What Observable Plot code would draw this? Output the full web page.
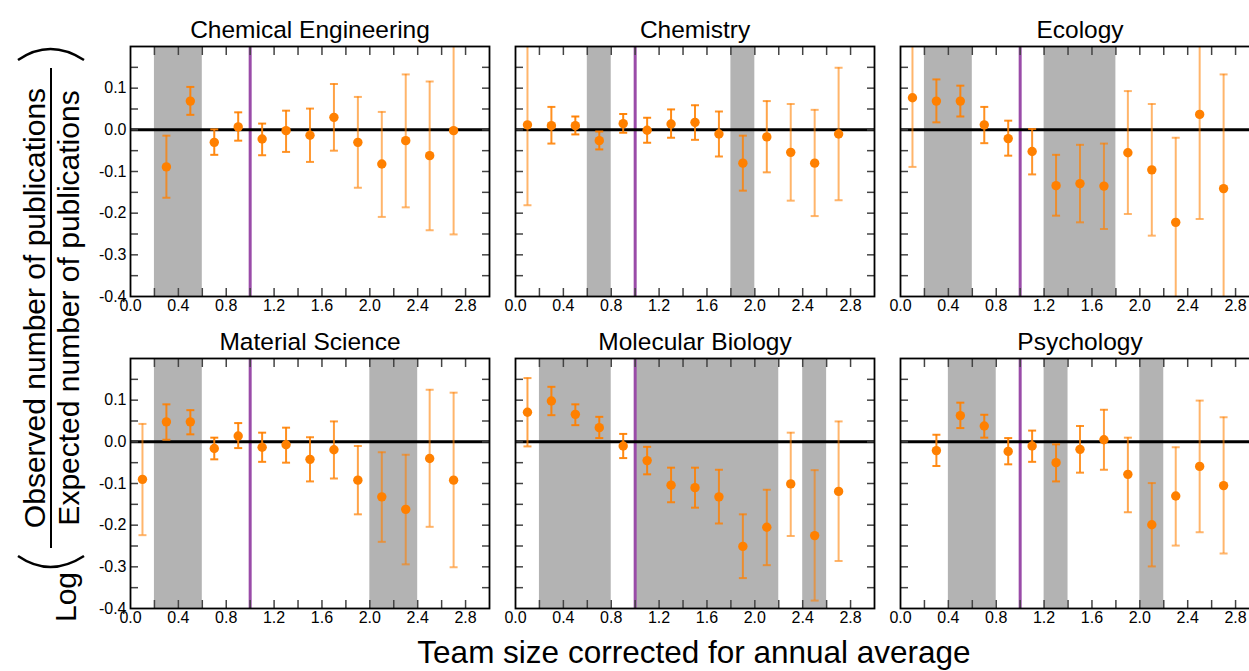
<!DOCTYPE html>
<html><head><meta charset="utf-8">
<script src="https://cdn.jsdelivr.net/npm/d3@7"></script>
<script src="https://cdn.jsdelivr.net/npm/@observablehq/plot@0.6"></script>
<style>
html,body{margin:0;padding:0;background:#fff;overflow:hidden;}
#chart{position:relative;width:1249px;height:671px;overflow:hidden;font-family:"Liberation Sans",Arial,Helvetica,sans-serif;}
#chart svg{position:absolute;}
</style></head><body><div id="chart"></div>
<script>
// ---- data ----
const teamSize = [0.1,0.3,0.5,0.7,0.9,1.1,1.3,1.5,1.7,1.9,2.1,2.3,2.5,2.7];
const fieldNames = ["Chemical Engineering","Chemistry","Ecology","Material Science","Molecular Biology","Psychology"];

const chemEngValue = [null,-0.089,0.069,-0.030,0.007,-0.022,-0.002,-0.013,0.030,-0.030,-0.082,-0.026,-0.062,-0.002];
const chemEngLow   = [null,-0.163,0.036,-0.060,-0.026,-0.061,-0.053,-0.077,-0.050,-0.139,-0.209,-0.186,-0.241,-0.251];
const chemEngHigh  = [null,-0.014,0.103,0.001,0.042,0.015,0.046,0.051,0.110,0.079,0.043,0.133,0.116,0.247];
const chemEngBands = [[0.2,0.6]];

const chemistryValue = [0.012,0.010,0.010,-0.026,0.015,-0.001,0.014,0.018,-0.010,-0.080,-0.017,-0.054,-0.080,-0.010];
const chemistryLow   = [-0.181,-0.033,-0.011,-0.047,-0.007,-0.031,-0.019,-0.024,-0.064,-0.146,-0.102,-0.170,-0.207,-0.169];
const chemistryHigh  = [0.205,0.055,0.032,-0.004,0.038,0.029,0.049,0.059,0.044,-0.014,0.069,0.062,0.048,0.149];
const chemistryBands = [[0.6,0.8],[1.8,2.0]];

const ecologyValue = [0.077,0.069,0.069,0.012,-0.021,-0.052,-0.134,-0.129,-0.135,-0.055,-0.096,-0.222,0.037,-0.141];
const ecologyLow   = [-0.089,0.018,0.032,-0.032,-0.062,-0.107,-0.206,-0.222,-0.238,-0.202,-0.254,-0.425,-0.214,-0.415];
const ecologyHigh  = [0.243,0.121,0.106,0.055,0.022,0.002,-0.060,-0.036,-0.033,0.093,0.062,-0.019,0.288,0.133];
const ecologyBands = [[0.2,0.6],[1.2,1.8]];

const materialValue = [-0.090,0.048,0.048,-0.016,0.014,-0.013,-0.007,-0.042,-0.019,-0.092,-0.132,-0.162,-0.040,-0.092];
const materialLow   = [-0.224,0.005,0.018,-0.042,-0.015,-0.048,-0.050,-0.095,-0.088,-0.174,-0.240,-0.294,-0.204,-0.301];
const materialHigh  = [0.043,0.090,0.076,0.010,0.045,0.022,0.034,0.011,0.049,-0.010,-0.025,-0.031,0.125,0.118];
const materialBands = [[0.2,0.6],[2.0,2.4]];

const molBioValue = [0.071,0.098,0.066,0.034,-0.010,-0.045,-0.104,-0.110,-0.132,-0.251,-0.205,-0.101,-0.225,-0.119];
const molBioLow   = [-0.011,0.064,0.040,0.009,-0.039,-0.078,-0.145,-0.158,-0.196,-0.327,-0.296,-0.226,-0.381,-0.286];
const molBioHigh  = [0.153,0.132,0.090,0.060,0.019,-0.012,-0.062,-0.062,-0.067,-0.174,-0.115,0.022,-0.068,0.049];
const molBioBands = [[0.2,0.8],[1.0,2.2],[2.4,2.6]];

const psychValue = [null,-0.021,0.063,0.038,-0.023,-0.010,-0.050,-0.018,0.005,-0.078,-0.199,-0.130,-0.059,-0.105];
const psychLow   = [null,-0.058,0.033,0.010,-0.054,-0.048,-0.095,-0.074,-0.067,-0.169,-0.299,-0.249,-0.217,-0.268];
const psychHigh  = [null,0.017,0.094,0.065,0.009,0.027,-0.006,0.038,0.077,0.010,-0.099,-0.013,0.099,0.059];
const psychBands = [[0.4,0.8],[1.2,1.4],[2.0,2.2]];

const referenceSize = [1.0];
const baseline = [0.0];
const xMinorTicks = [0.2,0.4,0.6,0.8,1.0,1.2,1.4,1.6,1.8,2.0,2.2,2.4,2.6,2.8];
const xTickLabels = [0.0,0.4,0.8,1.2,1.6,2.0,2.4,2.8];
const yMinorTicks = [-0.35,-0.3,-0.25,-0.2,-0.15,-0.1,-0.05,0,0.05,0.1,0.15];
const yTickLabels = [-0.4,-0.3,-0.2,-0.1,0.0,0.1];

// ---- assemble ----
const series = [
  [chemEngValue, chemEngLow, chemEngHigh, chemEngBands],
  [chemistryValue, chemistryLow, chemistryHigh, chemistryBands],
  [ecologyValue, ecologyLow, ecologyHigh, ecologyBands],
  [materialValue, materialLow, materialHigh, materialBands],
  [molBioValue, molBioLow, molBioHigh, molBioBands],
  [psychValue, psychLow, psychHigh, psychBands]
];

const FONT = '"Liberation Sans", Arial, Helvetica, sans-serif';
const ORANGE = "#ff8000";
const capSymbol = { draw(ctx) { ctx.moveTo(-4, 0); ctx.lineTo(4, 0); } };
const barOpacity = d => Math.max(0.58, Math.min(1, 1.05 - 4 * (d.hi - d.lo) / 2));

const panelW = 359, panelH = 250;
const mL = 50, mR = 10, mT = 50, mB = 30;
const lefts = [130, 515, 900], tops = [46, 358];
const chart = document.getElementById("chart");

series.forEach(([vals, lows, highs, bands], i) => {
  const col = i % 3, row = Math.floor(i / 3);
  const pts = teamSize.map((x, k) => ({x, y: vals[k], lo: lows[k], hi: highs[k]})).filter(d => d.y != null);
  const bandData = bands.map(([a, b]) => ({a, b}));
  const fmt = d => d.toFixed(1);
  const marks = [
    Plot.rect(bandData, {x1: "a", x2: "b", fill: "#b3b3b3"}),
    Plot.ruleX(referenceSize, {stroke: "#9a4ba8", strokeWidth: 3}),
    Plot.ruleY(baseline, {stroke: "#000", strokeWidth: 3}),
    Plot.ruleX(pts, {x: "x", y1: "lo", y2: "hi", stroke: ORANGE, strokeOpacity: barOpacity, strokeWidth: 2, clip: true}),
    Plot.dot(pts, {x: "x", y: "hi", symbol: capSymbol, r: 4, stroke: ORANGE, strokeOpacity: barOpacity, strokeWidth: 2, fill: "none", clip: true}),
    Plot.dot(pts, {x: "x", y: "lo", symbol: capSymbol, r: 4, stroke: ORANGE, strokeOpacity: barOpacity, strokeWidth: 2, fill: "none", clip: true}),
    Plot.dot(pts, {x: "x", y: "y", r: 4.7, fill: ORANGE, stroke: "none"}),
    Plot.axisX(xMinorTicks, {anchor: "bottom", tickSize: 8, dy: -8, tickFormat: () => "", stroke: "#444", strokeWidth: 1.5, label: null}),
    Plot.axisX(xMinorTicks, {anchor: "top", tickSize: 8, dy: 8, tickFormat: () => "", stroke: "#444", strokeWidth: 1.5, label: null}),
    Plot.axisY(yMinorTicks, {anchor: "left", tickSize: 8, dx: 8, tickFormat: () => "", stroke: "#444", strokeWidth: 1.5, label: null}),
    Plot.axisY(yMinorTicks, {anchor: "right", tickSize: 8, dx: -8, tickFormat: () => "", stroke: "#444", strokeWidth: 1.5, label: null}),
    Plot.frame({stroke: "#000", strokeWidth: 1.8}),
    Plot.axisX(xTickLabels, {anchor: "bottom", tickSize: 0, tickPadding: 3, tickFormat: fmt, fontSize: 16, label: null}),
    Plot.text([fieldNames[i]], {frameAnchor: "top", text: d => d, lineAnchor: "bottom", dy: -9, fontSize: 24.5, fill: "#000"})
  ];
  if (col === 0) {
    marks.push(Plot.axisY(yTickLabels, {anchor: "left", tickSize: 0, tickPadding: 4, tickFormat: fmt, fontSize: 16, label: null}));
  }
  const svg = Plot.plot({
    width: mL + panelW + mR,
    height: mT + panelH + mB,
    marginLeft: mL, marginRight: mR, marginTop: mT, marginBottom: mB,
    style: {background: "transparent", maxWidth: "none", fontFamily: FONT, overflow: "visible", color: "#000"},
    x: {domain: [0, 3], label: null},
    y: {domain: [-0.4, 0.2], label: null},
    marks
  });
  svg.style.left = (lefts[col] - mL) + "px";
  svg.style.top = (tops[row] - mT) + "px";
  chart.appendChild(svg);
});

// ---- global axis titles ----
const ov = d3.select(chart).append("svg").attr("width", 1249).attr("height", 671)
  .style("left", "0px").style("top", "0px").style("pointer-events", "none")
  .style("font-family", FONT);

ov.append("text").attr("x", 694).attr("y", 663).attr("text-anchor", "middle")
  .attr("font-size", 31.5).text("Team size corrected for annual average");

const yl = ov.append("g");
yl.append("text").attr("transform", "translate(76,622) rotate(-90)").attr("font-size", 30).text("Log");
yl.append("text").attr("transform", "translate(45,308) rotate(-90)").attr("text-anchor", "middle")
  .attr("font-size", 30).text("Observed number of publications");
yl.append("text").attr("transform", "translate(79,308) rotate(-90)").attr("text-anchor", "middle")
  .attr("font-size", 30).text("Expected number of publications");
yl.append("line").attr("x1", 51).attr("x2", 51).attr("y1", 548).attr("y2", 68)
  .attr("stroke", "#000").attr("stroke-width", 2);
yl.append("path").attr("d", "M18 556 Q50 578 84 556").attr("fill", "none").attr("stroke", "#000").attr("stroke-width", 2.5);
yl.append("path").attr("d", "M18 60 Q50 38 84 60").attr("fill", "none").attr("stroke", "#000").attr("stroke-width", 2.5);
</script></body></html>
